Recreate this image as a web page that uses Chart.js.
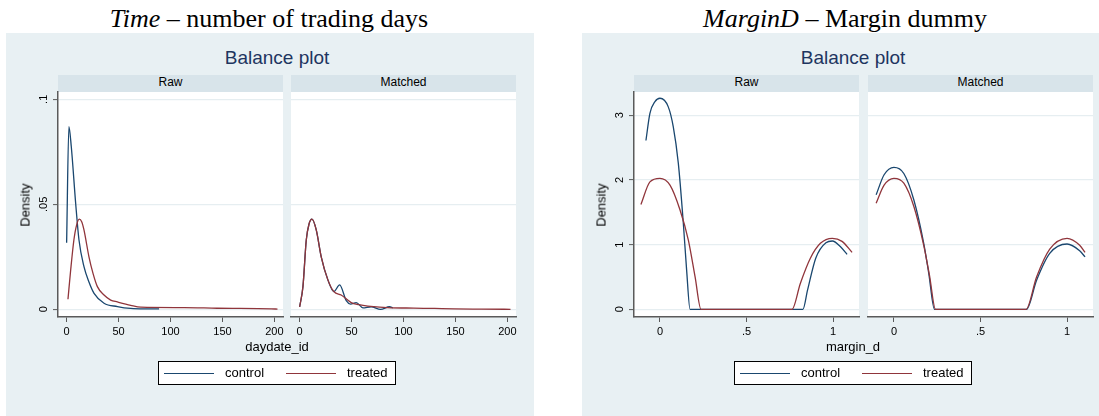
<!DOCTYPE html>
<html>
<head>
<meta charset="utf-8">
<script src="https://cdn.jsdelivr.net/npm/chart.js@4.4.2/dist/chart.umd.min.js"></script>
<style>
  body { margin: 0; width: 1099px; height: 416px; background: #fff; position: relative; overflow: hidden;
         font-family: "Liberation Sans", Arial, sans-serif; color: #000; }
  .figtitle { position: absolute; top: 6px; font-family: "Liberation Serif", "Times New Roman", serif;
              font-size: 26px; line-height: 26px; white-space: nowrap; transform: translateX(-50%); }
  .panel { position: absolute; top: 33px; height: 383px; background: #e8f0f3; }
  .gtitle { position: absolute; top: 48px; font-size: 19px; line-height: 19px; color: #1e3560;
            white-space: nowrap; transform: translateX(-50%); }
  .strip { position: absolute; top: 75px; height: 17px; background: #d8e4ea; font-size: 12px;
           line-height: 15px; text-align: center; }
  .plot { position: absolute; background: #fff; }
  .ytitle { position: absolute; font-size: 13px; line-height: 13px; white-space: nowrap;
            transform: translate(-50%, -50%) rotate(-90deg); }
  .xtitle { position: absolute; top: 340px; font-size: 13px; line-height: 13px; white-space: nowrap;
            transform: translateX(-50%); }
  .legend { position: absolute; top: 361px; width: 238px; height: 24px; background: #fff;
            border: 1px solid #000; box-sizing: border-box; font-size: 13px; }
  .legend .ln { position: absolute; top: 11px; width: 50px; height: 0; border-top: 1.3px solid; }
  .legend .tx { position: absolute; top: 4px; line-height: 14px; }
</style>
</head>
<body>
<script>
// ── Data: kernel densities ──────────────────────────────────────
// Time (daydate_id)
const timeRawCtrlX = [0, 2.2, 4.5, 8.7, 11.9, 16.7, 21.5, 26.4, 36, 48.9, 61.7, 75, 89];
const timeRawCtrlY = [0.0317, 0.0870, 0.0774, 0.0505, 0.033, 0.0203, 0.013, 0.0076, 0.0029, 0.0013, 0.0004, 0.0002, 0.0002];
const timeRawTreatX = [1.3, 3.9, 7, 9.6, 12.2, 14.5, 16.7, 21.5, 25.4, 29.6, 36, 42.4, 48.9, 61.7, 71.4, 113, 145, 197, 203];
const timeRawTreatY = [0.0048, 0.0187, 0.033, 0.0401, 0.0429, 0.0417, 0.0378, 0.025, 0.0171, 0.0108, 0.0068, 0.0044, 0.0035, 0.0019, 0.001, 0.0008, 0.0005, 0.0002, 0.0001];
const timeMatchCtrlX = [0, 3.2, 6.4, 9, 11.9, 16, 20.8, 27.2, 33, 38.5, 44.9, 49, 54.5, 60.9, 68.9, 77.9, 86.5, 89.7];
const timeMatchCtrlY = [0.0012, 0.0108, 0.033, 0.0405, 0.0429, 0.0378, 0.025, 0.014, 0.0084, 0.0116, 0.0041, 0.0025, 0.0032, 0.0007, 0.0012, 0.0, 0.0012, 0.0007];
const timeMatchTreatX = [0, 3.2, 6.4, 9, 11.9, 16, 20.8, 27.2, 33, 40, 49.7, 57, 65.7, 88, 110, 130, 149, 175, 203];
const timeMatchTreatY = [0.0012, 0.0108, 0.033, 0.0405, 0.0429, 0.0378, 0.025, 0.014, 0.0084, 0.0068, 0.0032, 0.0022, 0.0015, 0.0007, 0.0006, 0.0004, 0.0002, 0.0001, 0.0];
const timeXTicks = [0, 50, 100, 150, 200];
const timeXLabels = ['0', '50', '100', '150', '200'];
const timeYTicks = [0, 0.05, 0.1];
const timeYLabels = ['0', '.05', '.1'];

// MarginD (margin_d)
const marginRawCtrlX = [-0.081, -0.058, -0.029, 0, 0.048, 0.077, 0.106, 0.135, 0.154, 0.174, 0.826, 0.853, 0.90, 0.959, 0.996, 1.042, 1.081];
const marginRawCtrlY = [2.61, 3.03, 3.21, 3.263, 3.13, 2.82, 2.26, 1.33, 0.61, 0, 0, 0.30, 0.79, 1.03, 1.056, 0.97, 0.85];
const marginRawTreatX = [-0.110, -0.058, 0, 0.058, 0.116, 0.164, 0.203, 0.237, 0.763, 0.811, 0.869, 0.927, 0.996, 1.052, 1.11];
const marginRawTreatY = [1.62, 1.97, 2.025, 1.92, 1.535, 1.07, 0.50, 0, 0, 0.40, 0.79, 1.02, 1.097, 1.05, 0.88];
const marginMatchCtrlX = [-0.103, -0.057, 0, 0.057, 0.115, 0.172, 0.201, 0.234, 0.766, 0.824, 0.90, 1.0, 1.073, 1.104];
const marginMatchCtrlY = [1.77, 2.08, 2.195, 2.10, 1.69, 1.02, 0.557, 0, 0, 0.45, 0.865, 1.01, 0.906, 0.81];
const marginMatchTreatX = [-0.103, -0.057, 0, 0.057, 0.115, 0.172, 0.205, 0.24, 0.763, 0.824, 0.90, 1.0, 1.073, 1.104];
const marginMatchTreatY = [1.64, 1.92, 2.025, 1.95, 1.59, 0.99, 0.53, 0, 0, 0.50, 0.93, 1.097, 0.99, 0.88];
const marginXTicks = [0, 0.5, 1];
const marginXLabels = ['0', '.5', '1'];
const marginYTicks = [0, 1, 2, 3];
const marginYLabels = ['0', '1', '2', '3'];

const seriesNames = ['control', 'treated'];

// ── Style ───────────────────────────────────────────────────────
const NAVY = 'rgb(26, 71, 111)';
const MAROON = 'rgb(144, 53, 59)';
const AXIS = '#5a5a5a';
const GRID = '#e6eef1';
const FONT = '"Liberation Sans", Arial, sans-serif';

function el(cls, css, html) {
  const d = document.createElement('div');
  d.className = cls;
  d.style.cssText = css;
  if (html) d.innerHTML = html;
  document.body.appendChild(d);
  return d;
}

function subplot(area, xr, yr, xTicks, xLabels, yTicks, yLabels, showY, yPad, ctrl, treat) {
  const padL = 40, padT = 16, padR = 12, padB = 32;
  const w = area.r - area.l + padL + padR;
  const h = area.b - area.t + padT + padB;
  el('plot', `left:${area.l}px;top:${area.t}px;width:${area.r - area.l}px;height:${area.b - area.t}px`);
  const cv = document.createElement('canvas');
  cv.width = w; cv.height = h;
  cv.style.cssText = `position:absolute;left:${area.l - padL}px;top:${area.t - padT}px;width:${w}px;height:${h}px`;
  document.body.appendChild(cv);

  const line = (xs, ys, color) => ({
    data: xs.map((x, i) => ({ x, y: ys[i] })),
    borderColor: color, borderWidth: 1.3, pointRadius: 0,
    cubicInterpolationMode: 'monotone', fill: false,
  });

  new Chart(cv, {
    type: 'line',
    data: { datasets: [line(treat[0], treat[1], MAROON), line(ctrl[0], ctrl[1], NAVY)] },
    options: {
      responsive: false, animation: false, events: [],
      layout: { padding: { left: 0, top: padT, right: padR, bottom: 0 } },
      plugins: { legend: { display: false }, tooltip: { enabled: false } },
      scales: {
        x: {
          type: 'linear', min: xr[0], max: xr[1],
          afterBuildTicks: s => { s.ticks = xTicks.map(v => ({ value: v })); },
          afterFit: s => { s.height = padB; },
          ticks: { callback: (v, i) => xLabels[i], color: '#000', padding: 3, maxRotation: 0,
                   autoSkip: false, font: { family: FONT, size: 11 } },
          grid: { drawOnChartArea: false, drawTicks: true, tickLength: 5, tickColor: AXIS, tickWidth: 1 },
          border: { display: true, color: AXIS, width: 1.5 },
        },
        y: {
          type: 'linear', min: yr[0], max: yr[1],
          afterBuildTicks: s => { s.ticks = yTicks.map(v => ({ value: v })); },
          afterFit: s => { s.width = padL; },
          ticks: { display: showY, callback: (v, i) => yLabels[i], color: '#000', padding: yPad,
                   minRotation: 90, maxRotation: 90, crossAlign: 'center',
                   font: { family: FONT, size: 11 } },
          grid: { color: GRID, lineWidth: 1.2, drawTicks: showY, tickLength: 5, tickColor: AXIS, tickWidth: 1 },
          border: { display: showY, color: AXIS, width: 1.5 },
        },
      },
    },
  });
}

function panel(p) {
  el('panel', `left:${p.bgL}px;width:${p.bgW}px`);
  el('gtitle', `left:${p.cx}px`, 'Balance plot');
  el('strip', `left:${p.raw.l}px;width:${p.raw.r - p.raw.l}px`, 'Raw');
  el('strip', `left:${p.match.l}px;width:${p.match.r - p.match.l}px`, 'Matched');
  subplot(p.raw, p.xr, p.yr, p.xTicks, p.xLabels, p.yTicks, p.yLabels, true, p.yPad, p.rawCtrl, p.rawTreat);
  subplot(p.match, p.xr, p.yr, p.xTicks, p.xLabels, p.yTicks, p.yLabels, false, p.yPad, p.matchCtrl, p.matchTreat);
  el('ytitle', `left:${p.raw.l - 33}px;top:${(p.raw.t + p.raw.b) / 2}px`, 'Density');
  el('xtitle', `left:${p.cx}px`, p.xTitle);
  const lg = el('legend', `left:${p.cx - 119}px`);
  lg.innerHTML =
    `<div class="ln" style="left:5px;border-color:${NAVY}"></div><div class="tx" style="left:66px">${seriesNames[0]}</div>` +
    `<div class="ln" style="left:127px;border-color:${MAROON}"></div><div class="tx" style="left:188px">${seriesNames[1]}</div>`;
}

el('figtitle', 'left:269px', '<i>Time</i> – number of trading days');
el('figtitle', 'left:845px', '<i>MarginD</i> – Margin dummy');

panel({
  bgL: 6, bgW: 528, cx: 277,
  raw: { l: 58, r: 283, t: 92, b: 317 },
  match: { l: 291, r: 516, t: 92, b: 317 },
  xr: [-8.3, 208.3], yr: [-0.00367, 0.10348],
  xTicks: timeXTicks, xLabels: timeXLabels, yTicks: timeYTicks, yLabels: timeYLabels, yPad: 1.2,
  rawCtrl: [timeRawCtrlX, timeRawCtrlY], rawTreat: [timeRawTreatX, timeRawTreatY],
  matchCtrl: [timeMatchCtrlX, timeMatchCtrlY], matchTreat: [timeMatchTreatX, timeMatchTreatY],
  xTitle: 'daydate_id',
});

panel({
  bgL: 582, bgW: 517, cx: 853,
  raw: { l: 634, r: 859, t: 92, b: 317 },
  match: { l: 868, r: 1093, t: 92, b: 317 },
  xr: [-0.15, 1.15], yr: [-0.119, 3.36],
  xTicks: marginXTicks, xLabels: marginXLabels, yTicks: marginYTicks, yLabels: marginYLabels, yPad: 5.9,
  rawCtrl: [marginRawCtrlX, marginRawCtrlY], rawTreat: [marginRawTreatX, marginRawTreatY],
  matchCtrl: [marginMatchCtrlX, marginMatchCtrlY], matchTreat: [marginMatchTreatX, marginMatchTreatY],
  xTitle: 'margin_d',
});
</script>
</body>
</html>
